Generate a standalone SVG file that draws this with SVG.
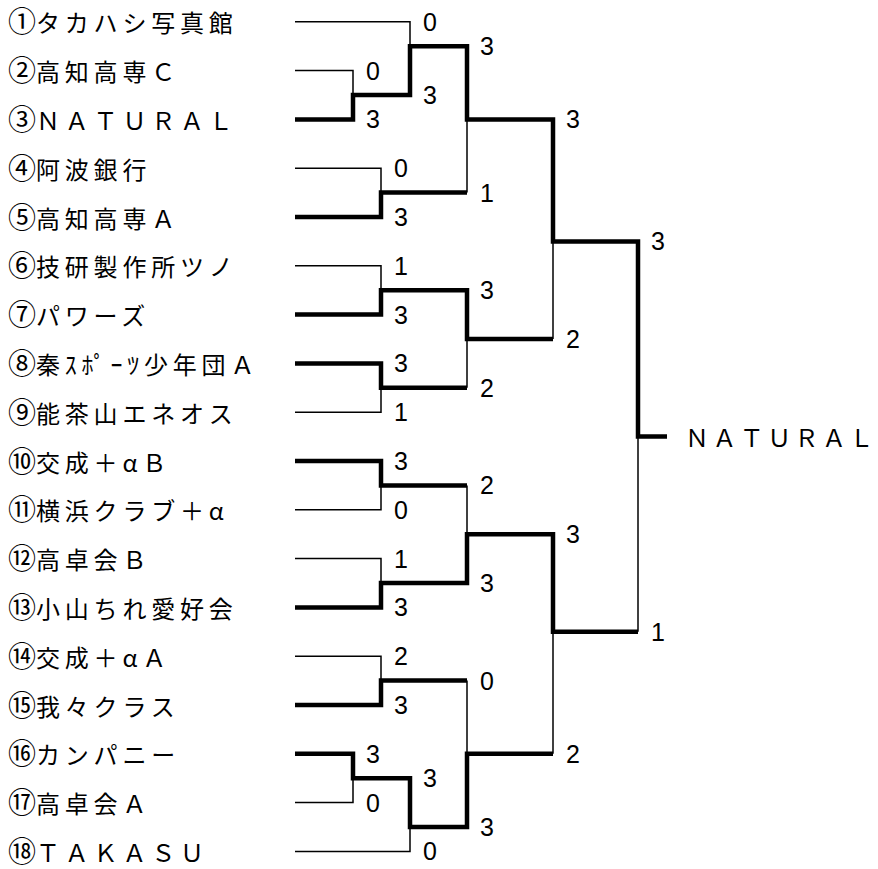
<svg xmlns="http://www.w3.org/2000/svg" width="878" height="869" viewBox="0 0 878 869">
<style>
.bg{fill:#fff}
.name{font-family:"Noto Sans CJK JP","Noto Sans",sans-serif;font-size:24px;letter-spacing:4.8px;fill:#000}
.num{font-size:28px;letter-spacing:0px}
.win{letter-spacing:3.4px}
.sc{font-family:"Liberation Sans",Arial,sans-serif;font-size:25px;fill:#000;text-anchor:middle}
.thin{fill:none;stroke:#000;stroke-width:1.5}
.thick{fill:none;stroke:#000;stroke-width:4.5;stroke-linejoin:miter}
</style>
<rect class="bg" x="0" y="0" width="878" height="869"/>
<g id="teams">
<g id="team-1"><text class="name" x="8" y="32.3"><tspan class="num">①</tspan>タカハシ写真館</text></g>
<g id="team-2"><text class="name" x="8" y="81.1"><tspan class="num">②</tspan>高知高専Ｃ</text></g>
<g id="team-3"><text class="name" x="8" y="129.9"><tspan class="num">③</tspan>ＮＡＴＵＲＡＬ</text></g>
<g id="team-4"><text class="name" x="8" y="178.7"><tspan class="num">④</tspan>阿波銀行</text></g>
<g id="team-5"><text class="name" x="8" y="227.5"><tspan class="num">⑤</tspan>高知高専Ａ</text></g>
<g id="team-6"><text class="name" x="8" y="276.3"><tspan class="num">⑥</tspan>技研製作所ツノ</text></g>
<g id="team-7"><text class="name" x="8" y="325.1"><tspan class="num">⑦</tspan>パワーズ</text></g>
<g id="team-8"><text class="name" x="8" y="373.9"><tspan class="num">⑧</tspan>秦ｽﾎﾟｰﾂ少年団Ａ</text></g>
<g id="team-9"><text class="name" x="8" y="422.7"><tspan class="num">⑨</tspan>能茶山エネオス</text></g>
<g id="team-10"><text class="name" x="8" y="471.5"><tspan class="num">⑩</tspan>交成＋αＢ</text></g>
<g id="team-11"><text class="name" x="8" y="520.3"><tspan class="num">⑪</tspan>横浜クラブ＋α</text></g>
<g id="team-12"><text class="name" x="8" y="569.1"><tspan class="num">⑫</tspan>高卓会Ｂ</text></g>
<g id="team-13"><text class="name" x="8" y="617.9"><tspan class="num">⑬</tspan>小山ちれ愛好会</text></g>
<g id="team-14"><text class="name" x="8" y="666.7"><tspan class="num">⑭</tspan>交成＋αＡ</text></g>
<g id="team-15"><text class="name" x="8" y="715.5"><tspan class="num">⑮</tspan>我々クラス</text></g>
<g id="team-16"><text class="name" x="8" y="764.3"><tspan class="num">⑯</tspan>カンパニー</text></g>
<g id="team-17"><text class="name" x="8" y="813.1"><tspan class="num">⑰</tspan>高卓会Ａ</text></g>
<g id="team-18"><text class="name" x="8" y="861.9"><tspan class="num">⑱</tspan>ＴＡＫＡＳＵ</text></g>
</g>
<g id="champion"><text class="name win" x="685" y="447">ＮＡＴＵＲＡＬ</text></g>
<g id="connectors">
<path class="thin" d="M295 21.8H410V46.2"/>
<path class="thin" d="M295 70.6H353V95"/>
<path class="thin" d="M295 168.2H381V192.6"/>
<path class="thin" d="M295 265.8H381V290.2"/>
<path class="thin" d="M295 412.2H381V387.8"/>
<path class="thin" d="M295 509.8H381V485.4"/>
<path class="thin" d="M295 558.6H381V583"/>
<path class="thin" d="M295 656.2H381V680.6"/>
<path class="thin" d="M295 802.6H353V778.2"/>
<path class="thin" d="M295 851.4H410V827"/>
<path class="thin" d="M467 119.4V192.6"/>
<path class="thin" d="M467 339V387.8"/>
<path class="thin" d="M467 485.4V534.2"/>
<path class="thin" d="M467 680.6V753.8"/>
<path class="thin" d="M553 241.4V339"/>
<path class="thin" d="M553 631.8V753.8"/>
<path class="thin" d="M638 436.6V631.8"/>
<path class="thick" d="M295 119.4H353V95H410V46.2H467V119.4H553V241.4H638V436.6H667"/>
<path class="thick" d="M295 217H381V192.6H467"/>
<path class="thick" d="M295 314.6H381V290.2H467V339H553"/>
<path class="thick" d="M295 363.4H381V387.8H467"/>
<path class="thick" d="M295 461H381V485.4H467"/>
<path class="thick" d="M295 607.4H381V583H467V534.2H553V631.8H638"/>
<path class="thick" d="M295 705H381V680.6H467"/>
<path class="thick" d="M295 753.8H353V778.2H410V827H467V753.8H553"/>
</g>
<g id="scores">
<text class="sc" x="373" y="79.6">0</text>
<text class="sc" x="373" y="128.4">3</text>
<text class="sc" x="430" y="30.8">0</text>
<text class="sc" x="430" y="104">3</text>
<text class="sc" x="487" y="55.2">3</text>
<text class="sc" x="487" y="201.6">1</text>
<text class="sc" x="401" y="177.2">0</text>
<text class="sc" x="401" y="226">3</text>
<text class="sc" x="401" y="274.8">1</text>
<text class="sc" x="401" y="323.6">3</text>
<text class="sc" x="401" y="372.4">3</text>
<text class="sc" x="401" y="421.2">1</text>
<text class="sc" x="487" y="299.2">3</text>
<text class="sc" x="487" y="396.8">2</text>
<text class="sc" x="573" y="128.4">3</text>
<text class="sc" x="573" y="348">2</text>
<text class="sc" x="658" y="250.4">3</text>
<text class="sc" x="658" y="640.8">1</text>
<text class="sc" x="401" y="470">3</text>
<text class="sc" x="401" y="518.8">0</text>
<text class="sc" x="401" y="567.6">1</text>
<text class="sc" x="401" y="616.4">3</text>
<text class="sc" x="487" y="494.4">2</text>
<text class="sc" x="487" y="592">3</text>
<text class="sc" x="573" y="543.2">3</text>
<text class="sc" x="573" y="762.8">2</text>
<text class="sc" x="401" y="665.2">2</text>
<text class="sc" x="401" y="714">3</text>
<text class="sc" x="487" y="689.6">0</text>
<text class="sc" x="487" y="836">3</text>
<text class="sc" x="373" y="762.8">3</text>
<text class="sc" x="373" y="811.6">0</text>
<text class="sc" x="430" y="787.2">3</text>
<text class="sc" x="430" y="860.4">0</text>
</g>
</svg>
